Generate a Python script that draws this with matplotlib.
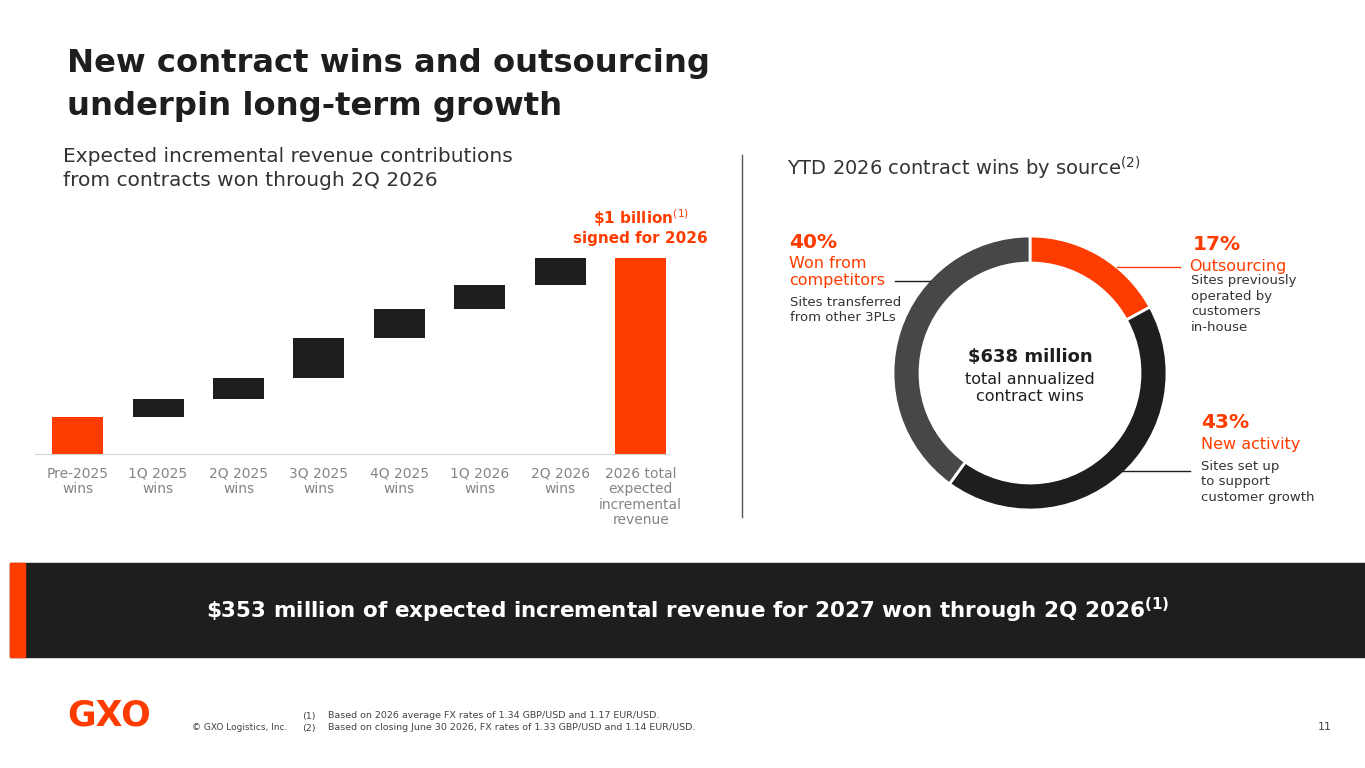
import matplotlib
matplotlib.use("Agg")
import matplotlib.pyplot as plt
from matplotlib.patches import Rectangle

plt.rcParams['font.family'] = ['DejaVu Sans']

W, H = 1365, 768
ORANGE = "#FF3C00"
DARK = "#1E1E1E"
GRAY = "#474747"
LABEL = "#858585"

# waterfall data ($M)
categories = ["Pre-2025\nwins", "1Q 2025\nwins", "2Q 2025\nwins", "3Q 2025\nwins",
              "4Q 2025\nwins", "1Q 2026\nwins", "2Q 2026\nwins",
              "2026 total\nexpected\nincremental\nrevenue"]
steps = [190, 90, 110, 200, 150, 120, 140]
total = 1000

# donut data
shares = [17, 43, 40]
share_names = ["Outsourcing", "New activity", "Won from competitors"]
share_colors = [ORANGE, DARK, GRAY]


def fx(x):
    return x / W


def fy(y):
    return 1 - y / H


fig = plt.figure(figsize=(W / 100, H / 100), dpi=100)

# title
fig.text(fx(67), fy(48), "New contract wins and outsourcing\nunderpin long-term growth",
         fontsize=23.2, fontweight="bold", color=DARK, va="top", linespacing=1.5)

fig.text(fx(63), fy(147), "Expected incremental revenue contributions\nfrom contracts won through 2Q 2026",
         fontsize=14.5, color="#333333", va="top", linespacing=1.3)
fig.text(fx(787), fy(168), "YTD 2026 contract wins by source$^{(2)}$",
         fontsize=14, color="#333333", va="center")

# separator
fig.add_artist(plt.Line2D([fx(742), fx(742)], [fy(155), fy(517)], color="#555555", lw=1))

# waterfall
ax = fig.add_axes([fx(35), fy(454), fx(668) - fx(35), (454 - 258) / H])
bottoms = []
run = 0
for s in steps:
    bottoms.append(run)
    run += s
xs = list(range(len(categories)))
ax.bar(xs[0], steps[0], bottom=0, width=0.635, color=ORANGE)
ax.bar(xs[1:7], steps[1:], bottom=bottoms[1:], width=0.635, color=DARK)
ax.bar(xs[7], total, width=0.635, color=ORANGE)
ax.set_xlim(-0.53, 7.34)
ax.set_ylim(0, total)
for sp in ["top", "right", "left"]:
    ax.spines[sp].set_visible(False)
ax.spines["bottom"].set_color("#D5D5D5")
ax.set_yticks([])
ax.set_xticks(xs)
ax.set_xticklabels(categories, fontsize=10, color=LABEL, linespacing=1.15)
ax.tick_params(axis="x", length=0, pad=9)
ax.text(7, total + 60, r"\$1 billion$^{(1)}$" + "\nsigned for 2026", ha="center", va="bottom",
        fontsize=11, fontweight="bold", color=ORANGE, linespacing=1.2)

# donut
R = 150
dax = fig.add_axes([fx(1030 - R), fy(373 + R), 2 * R / W, 2 * R / H])
dax.pie(shares, colors=share_colors, startangle=90, counterclock=False, radius=137 / R,
        wedgeprops=dict(width=27 / R, edgecolor="white", linewidth=2))
dax.set_xlim(-1, 1)
dax.set_ylim(-1, 1)
dax.axis("off")
dax.text(0, 0.11, "$638 million", ha="center", va="center", fontsize=13, fontweight="bold", color=DARK)
dax.text(0, -0.1, "total annualized\ncontract wins", ha="center", va="center", fontsize=11.5,
         color=DARK, linespacing=1.2)

# donut labels
fig.text(fx(789), fy(243), "40%", fontsize=14.5, fontweight="bold", color=ORANGE, va="center")
fig.text(fx(789), fy(272), "Won from\ncompetitors", fontsize=11.5, color=ORANGE, va="center", linespacing=1.15)
fig.text(fx(790), fy(310), "Sites transferred\nfrom other 3PLs", fontsize=9.5, color="#333333",
         va="center", linespacing=1.25)
fig.add_artist(plt.Line2D([fx(895), fx(930)], [fy(281), fy(281)], color=DARK, lw=1))

fig.text(fx(1193), fy(245), "17%", fontsize=14.5, fontweight="bold", color=ORANGE, va="center")
fig.text(fx(1189), fy(267), "Outsourcing", fontsize=11.5, color=ORANGE, va="center")
fig.text(fx(1191), fy(304), "Sites previously\noperated by\ncustomers\nin-house", fontsize=9.5,
         color="#333333", va="center", linespacing=1.25)
fig.add_artist(plt.Line2D([fx(1117), fx(1180)], [fy(267), fy(267)], color=ORANGE, lw=1))

fig.text(fx(1201), fy(423), "43%", fontsize=14.5, fontweight="bold", color=ORANGE, va="center")
fig.text(fx(1201), fy(444), "New activity", fontsize=11.5, color=ORANGE, va="center")
fig.text(fx(1201), fy(482), "Sites set up\nto support\ncustomer growth", fontsize=9.5,
         color="#333333", va="center", linespacing=1.25)
fig.add_artist(plt.Line2D([fx(1102), fx(1190)], [fy(471), fy(471)], color=DARK, lw=1))

# banner
fig.add_artist(Rectangle((fx(10), fy(657)), fx(1365) - fx(10), (657 - 563) / H,
                         transform=fig.transFigure, color=DARK))
fig.add_artist(Rectangle((fx(10), fy(657)), fx(15), (657 - 563) / H,
                         transform=fig.transFigure, color=ORANGE))
fig.text(fx(688), fy(610), r"\$353 million of expected incremental revenue for 2027 won through 2Q 2026$^{\mathbf{(1)}}$",
         ha="center", va="center", fontsize=15.5, fontweight="bold", color="white")

# footer
fig.text(fx(67), fy(716), "GXO", fontsize=25, fontweight="bold", color=ORANGE, va="center")
fig.text(fx(192), fy(728), "© GXO Logistics, Inc.", fontsize=6.5, color="#444444", va="center")
fig.text(fx(302), fy(716), "(1)", fontsize=6.8, color="#444444", va="center")
fig.text(fx(328), fy(716), "Based on 2026 average FX rates of 1.34 GBP/USD and 1.17 EUR/USD.",
         fontsize=6.8, color="#444444", va="center")
fig.text(fx(302), fy(728), "(2)", fontsize=6.8, color="#444444", va="center")
fig.text(fx(328), fy(728), "Based on closing June 30 2026, FX rates of 1.33 GBP/USD and 1.14 EUR/USD.",
         fontsize=6.8, color="#444444", va="center")
fig.text(fx(1318), fy(727), "11", fontsize=8, color="#444444", va="center")

fig.savefig("out.png", dpi=100)
